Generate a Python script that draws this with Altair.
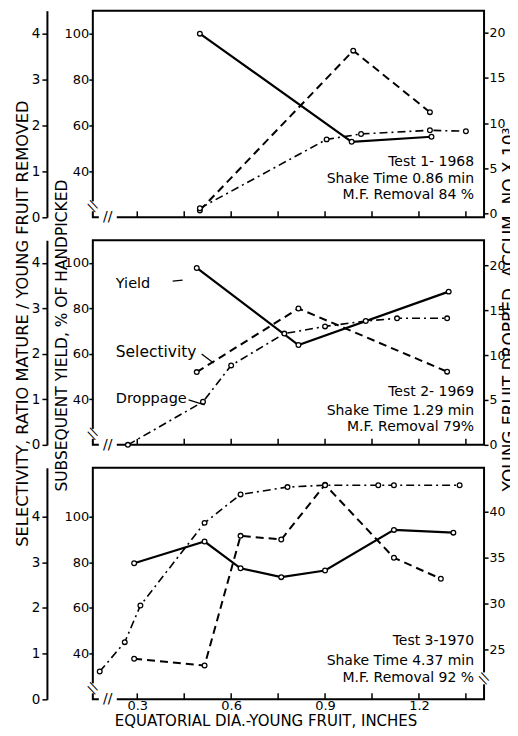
import altair as alt
import pandas as pd

FONT = "DejaVu Sans"

# ---- shared axes ----
X_DOMAIN = [0.158, 1.408]
X_TICKS = [0.3, 0.45, 0.6, 0.75, 0.9, 1.05, 1.2, 1.35]
X_LABELS = [0.3, 0.6, 0.9, 1.2]
SEL_TICKS = [0, 1, 2, 3, 4]
YIELD_TICKS = [40, 60, 80, 100]
DROP_TICKS_A = [0, 5, 10, 15, 20]
DROP_TICKS_B = [25, 30, 35, 40]

# ---- Test 1 - 1968 ----
p1_yield_x = [0.50, 0.985, 1.24]
p1_yield = [100, 52.9, 55.1]
p1_sel_x = [0.50, 0.99, 1.235]
p1_sel = [0.15, 3.63, 2.29]
p1_drop_x = [0.50, 0.905, 1.015, 1.235, 1.35]
p1_drop = [0.6, 8.2, 8.8, 9.2, 9.1]
p1_text = ["Test 1- 1968", "Shake Time 0.86 min", "M.F. Removal  84 %"]

# ---- Test 2 - 1969 ----
p2_yield_x = [0.49, 0.815, 1.295]
p2_yield = [97.8, 63.9, 87.4]
p2_sel_x = [0.49, 0.815, 1.29]
p2_sel = [1.6, 3.0, 1.61]
p2_drop_x = [0.27, 0.51, 0.60, 0.77, 0.90, 1.03, 1.13, 1.29]
p2_drop = [0.0, 4.8, 8.85, 12.4, 13.2, 13.8, 14.1, 14.1]
p2_text = ["Test 2- 1969", "Shake Time 1.29 min", "M.F. Removal 79%"]
series_names = ["Yield", "Selectivity", "Droppage"]

# ---- Test 3 - 1970 ----
p3_yield_x = [0.29, 0.515, 0.63, 0.76, 0.90, 1.12, 1.31]
p3_yield = [79.6, 89.1, 77.4, 73.5, 76.4, 94.2, 93.0]
p3_sel_x = [0.29, 0.515, 0.63, 0.76, 0.90, 1.12, 1.27]
p3_sel = [0.89, 0.74, 3.58, 3.50, 4.70, 3.10, 2.64]
p3_drop_x = [0.18, 0.26, 0.31, 0.515, 0.63, 0.78, 0.90, 1.07, 1.12, 1.33]
p3_drop = [22.6, 25.8, 29.8, 38.8, 41.9, 42.7, 42.9, 42.9, 42.9, 42.9]
p3_text = ["Test 3-1970", "Shake Time 4.37 min", "M.F. Removal 92 %"]

W = 392
XSC = alt.Scale(domain=X_DOMAIN, nice=False, zero=False)
PT = alt.OverlayMarkDef(filled=False, fill="white", stroke="black", strokeWidth=1.3, size=22, opacity=1)


def x_axis(show):
    if show:
        return alt.Axis(values=X_LABELS, format=".1f", tickSize=0, ticks=False, domain=False,
                        labelPadding=0, labelFontSize=13, grid=False,
                        title="EQUATORIAL DIA.-YOUNG FRUIT, INCHES", titleFontSize=15,
                        titleX=173, titleY=21.5, titleAlign="center", titleBaseline="middle")
    return alt.Axis(labels=False, ticks=False, domain=False, grid=False, title=None)


def line_layer(xs, vs, dash, sw, dom, axis, xaxis):
    df = pd.DataFrame({"x": xs, "v": vs})
    kw = {"strokeDash": dash} if dash else {}
    return alt.Chart(df).mark_line(color="black", strokeWidth=sw, point=PT, **kw).encode(
        x=alt.X("x:Q", scale=XSC, axis=xaxis),
        y=alt.Y("v:Q", scale=alt.Scale(domain=dom, nice=False, zero=False), axis=axis),
    )


def text_layer(txt, x, y, size=14, align="right", angle=0, color="black"):
    return alt.Chart(pd.DataFrame({"t": [txt]})).mark_text(
        align=align, baseline="middle", font=FONT, fontSize=size, color=color, angle=angle
    ).encode(x=alt.value(x), y=alt.value(y), text="t:N")


def seg(x1, y1, x2, y2, color="black", sw=1.3):
    return alt.Chart(pd.DataFrame({"a": [0]})).mark_rule(color=color, strokeWidth=sw).encode(
        x=alt.value(x1), x2=alt.value(x2), y=alt.value(y1), y2=alt.value(y2)
    )


def xtick_layer(H, xaxis):
    return alt.Chart(pd.DataFrame({"x": X_TICKS})).mark_rule(color="black", strokeWidth=1.5).encode(
        x=alt.X("x:Q", scale=XSC, axis=xaxis), y=alt.value(H), y2=alt.value(H - 6)
    )


def panel(H, smax, yx, yv, sx, sv, dx, dv, ddom, dticks, texts, tys, show_x=False, titles=False):
    ydom = [20, 20 + 20 * smax]
    ycommon = dict(orient="left", offset=0, values=YIELD_TICKS, tickSize=4, domain=False,
                   labelPadding=0, labelFontSize=13, grid=False)
    scommon = dict(orient="left", offset=46, values=SEL_TICKS, tickSize=5, domain=True,
                   domainWidth=2, labelPadding=2, labelFontSize=13.5, grid=False)
    dcommon = dict(orient="right", values=dticks, tickSize=4, domain=False,
                   labelPadding=1, labelFontSize=12.5, grid=False)
    if titles:
        yield_axis = alt.Axis(**ycommon,
                              title="SUBSEQUENT YIELD, % OF HANDPICKED", titleAngle=270,
                              titleX=-31, titleY=95, titleAlign="center", titleBaseline="middle",
                              titleFontSize=15.5)
        sel_axis = alt.Axis(**scommon,
                            title="SELECTIVITY, RATIO MATURE / YOUNG FRUIT REMOVED", titleAngle=270,
                            titleX=-24, titleY=83, titleAlign="center", titleBaseline="middle",
                            titleFontSize=16.3)
        drop_axis = alt.Axis(**dcommon,
                             title="YOUNG FRUIT DROPPED, ACCUM. NO X 10³", titleAngle=270,
                             titleX=25.7, titleY=69, titleAlign="center", titleBaseline="middle",
                             titleFontSize=17)
    else:
        yield_axis = alt.Axis(**ycommon, title=None)
        sel_axis = alt.Axis(**scommon, title=None)
        drop_axis = alt.Axis(**dcommon, title=None)
    xa = x_axis(show_x)
    layers = [
        line_layer(yx, yv, None, 2.2, ydom, yield_axis, xa),
        line_layer(sx, sv, [8, 5], 2.0, [0, smax], sel_axis, xa),
        line_layer(dx, dv, [8, 4, 2, 4], 1.6, ddom, drop_axis, xa),
        xtick_layer(H, xa),
    ]
    for t, yy in zip(texts, tys):
        layers.append(text_layer(t, 382, yy))
    # axis breaks
    layers += [
        seg(6, H, 24, H, color="white", sw=4),
        text_layer("//", 15, H, size=14, align="center"),
        seg(0, H - 16, 0, H - 6, color="white", sw=4),
        text_layer("//", 0, H - 11, size=13, align="center", angle=300),
    ]
    return layers


p1 = alt.layer(*panel(207, 4.5, p1_yield_x, p1_yield, p1_sel_x, p1_sel, p1_drop_x, p1_drop,
                       [-0.4, 22.4], DROP_TICKS_A, p1_text, [152, 169, 185])
               ).resolve_scale(y="independent").properties(width=W, height=207)

l2 = panel(205, 4.5, p2_yield_x, p2_yield, p2_sel_x, p2_sel, p2_drop_x, p2_drop,
           [0, 22.8], DROP_TICKS_A, p2_text, [152, 171, 187], titles=True)
l2 += [
    text_layer(series_names[0], 23, 44, size=14.5, align="left"),
    text_layer(series_names[1], 23, 112, size=15.5, align="left"),
    text_layer(series_names[2], 23, 159, size=14.5, align="left"),
    seg(80, 41, 90, 40),
    seg(109, 114, 121, 123),
    seg(96, 160, 112, 165),
]
p2 = alt.layer(*l2).resolve_scale(y="independent").properties(width=W, height=205)

l3 = panel(232, 5.07, p3_yield_x, p3_yield, p3_sel_x, p3_sel, p3_drop_x, p3_drop,
           [19.57, 44.8], DROP_TICKS_B, p3_text, [174, 194, 211], show_x=True)
l3 += [
    seg(W, 205, W, 217, color="white", sw=4),
    text_layer("//", W, 211, size=13, align="center", angle=300),
]
p3 = alt.layer(*l3).resolve_scale(y="independent").properties(width=W, height=232)

chart = alt.vconcat(p1, p2, p3, spacing=23, bounds="flush").properties(
    padding={"left": 5, "top": 1, "right": -9, "bottom": -1.2}
).configure_view(stroke="black", strokeWidth=2).configure_axis(
    labelFont=FONT, labelFontSize=14, labelColor="black", titleFont=FONT, titleColor="black",
    titleFontWeight="normal", tickColor="black", domainColor="black", tickWidth=1.5
)

chart.save("out.html", embed_options={"renderer": "svg", "actions": False})
